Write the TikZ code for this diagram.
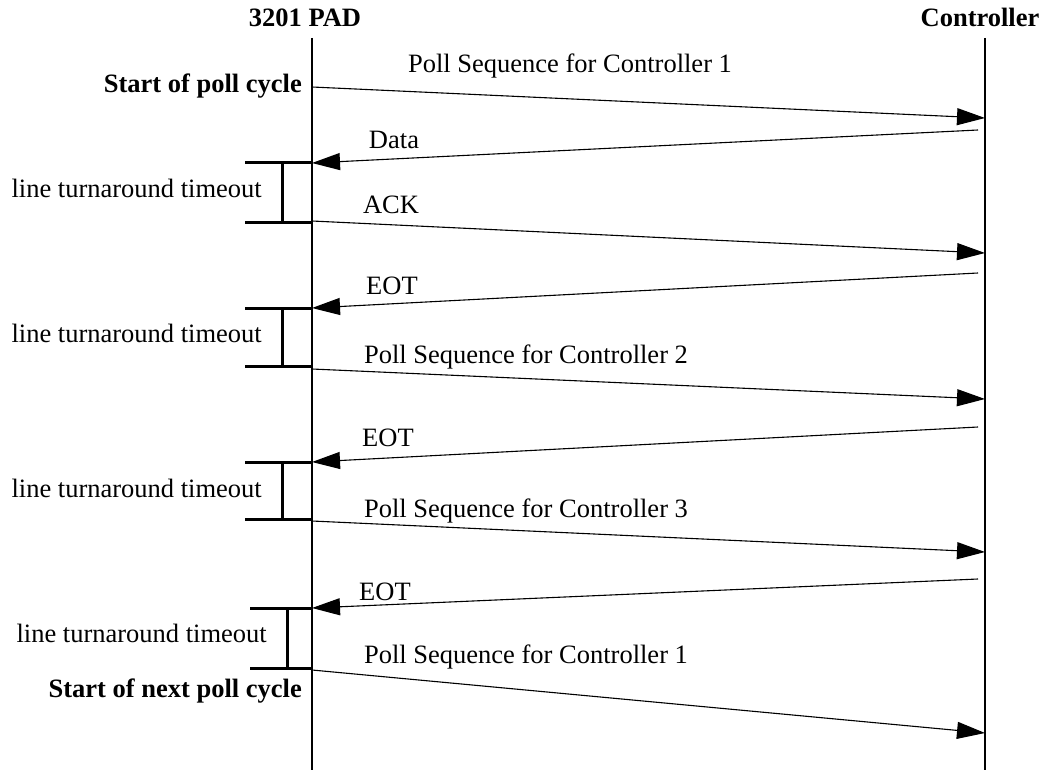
\documentclass[tikz,border=0pt]{standalone}
\usepackage{fontspec}
\setmainfont{Liberation Serif}
\usetikzlibrary{arrows.meta,positioning}

\begin{document}
\begin{tikzpicture}[x=1pt,y=-1pt,>={Triangle[length=28pt,width=17pt]},
                    msg/.style={->,line width=1.1pt},
                    life/.style={line width=2pt},
                    brk/.style={line width=3pt},
                    txt/.style={font=\fontsize{26.5}{30}\selectfont,inner sep=0pt},
                    hd/.style={font=\fontsize{26.5}{30}\selectfont\bfseries,inner sep=0pt}]

	\useasboundingbox (0,0) rectangle (1054,770);

	% lifelines
	\node[hd,anchor=base] (pad)  at (305,27)  {3201 PAD};
	\node[hd,anchor=base] (ctl)  at (980,27)  {Controller};
	\coordinate (padtop) at (312,38);	\coordinate (padbot) at (312,770);
	\coordinate (ctltop) at (985,38);	\coordinate (ctlbot) at (985,770);
	\draw[life] (padtop) -- (padbot);
	\draw[life] (ctltop) -- (ctlbot);

	% end points of the messages
	\coordinate (p1) at (312,87);	\coordinate (c1) at (985,118);
	\coordinate (c2) at (978,130);	\coordinate (p2) at (312,163);
	\coordinate (p3) at (312,221);	\coordinate (c3) at (985,253);
	\coordinate (c4) at (978,273);	\coordinate (p4) at (312,308);
	\coordinate (p5) at (312,369);	\coordinate (c5) at (985,399);
	\coordinate (c6) at (978,427);	\coordinate (p6) at (312,462);
	\coordinate (p7) at (312,521);	\coordinate (c7) at (985,552);
	\coordinate (c8) at (978,579);	\coordinate (p8) at (312,608);
	\coordinate (p9) at (312,670);	\coordinate (c9) at (985,733);

	\draw[msg] (p1) -- (c1);
	\draw[msg] (c2) -- (p2);
	\draw[msg] (p3) -- (c3);
	\draw[msg] (c4) -- (p4);
	\draw[msg] (p5) -- (c5);
	\draw[msg] (c6) -- (p6);
	\draw[msg] (p7) -- (c7);
	\draw[msg] (c8) -- (p8);
	\draw[msg] (p9) -- (c9);

	% message labels
	\node[txt,anchor=base] (m1) at (570,73)  {Poll Sequence for Controller 1};
	\node[txt,anchor=base] (m2) at (394,149) {Data};
	\node[txt,anchor=base] (m3) at (391,213) {ACK};
	\node[txt,anchor=base] (m4) at (392,294) {EOT};
	\node[txt,anchor=base] (m5) at (526,363) {Poll Sequence for Controller 2};
	\node[txt,anchor=base] (m6) at (388,446) {EOT};
	\node[txt,anchor=base] (m7) at (526,517) {Poll Sequence for Controller 3};
	\node[txt,anchor=base] (m8) at (385,600) {EOT};
	\node[txt,anchor=base] (m9) at (526,663) {Poll Sequence for Controller 1};

	% turnaround brackets
	\foreach \i/\top/\bot/\mid/\lft in {1/163/222/282/245,2/308/366/282/245,3/462/519/282/245,4/608/668/287/250}{
		\coordinate (bt\i) at (\lft,\top);	\coordinate (bb\i) at (\lft,\bot);
		\coordinate (pt\i) at (312,\top);	\coordinate (pb\i) at (312,\bot);
		\draw[brk] (bt\i) -- (pt\i);
		\draw[brk] (bb\i) -- (pb\i);
		\draw[brk] (\mid,\top) -- (\mid,\bot);
	}
	\node[txt,anchor=base east] (t1) at (262,197) {line turnaround timeout};
	\node[txt,anchor=base east] (t2) at (262,342) {line turnaround timeout};
	\node[txt,anchor=base east] (t3) at (262,497) {line turnaround timeout};
	\node[txt,anchor=base east] (t4) at (267,642) {line turnaround timeout};

	% cycle marks
	\node[hd,anchor=base east] (s1) at (302,93)  {Start of poll cycle};
	\node[hd,anchor=base east] (s2) at (302,697) {Start of next poll cycle};

\end{tikzpicture}
\end{document}
